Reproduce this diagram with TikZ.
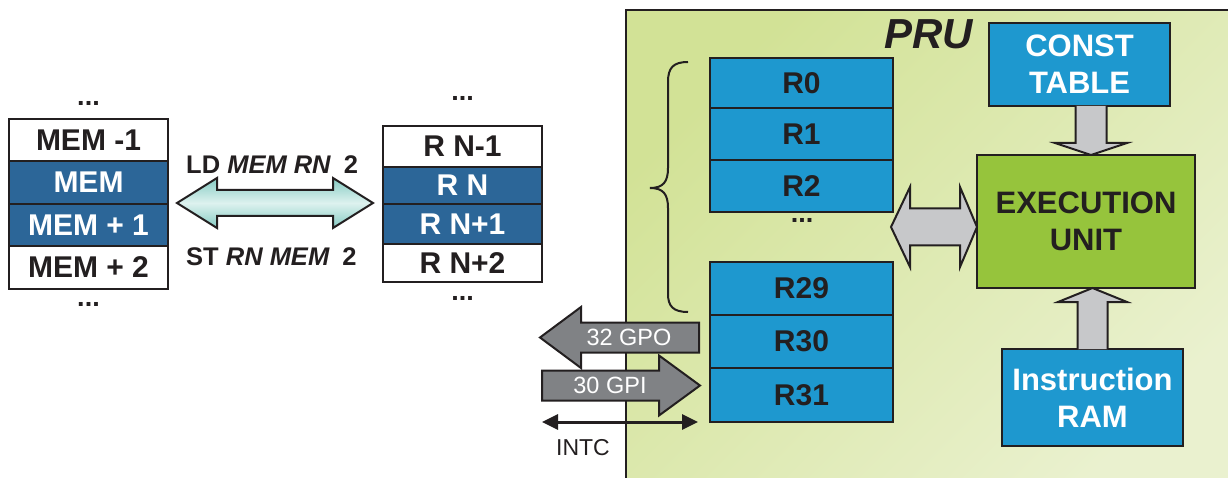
\documentclass[tikz,border=0pt]{standalone}
\usepackage{fontspec}
\setmainfont{Liberation Sans}
\usetikzlibrary{calc,positioning,arrows.meta}
\definecolor{ink}{HTML}{231F20}
\definecolor{memblue}{HTML}{2C6698}
\definecolor{regblue}{HTML}{1E98CF}
\definecolor{exgreen}{HTML}{96C43C}
\definecolor{lgray}{HTML}{C7C8CA}
\definecolor{dgray}{HTML}{808285}
\definecolor{pruA}{HTML}{D2E296}
\definecolor{pruB}{HTML}{EAF1CF}
\definecolor{tealA}{HTML}{86CBC3}
\definecolor{tealB}{HTML}{DDF2EF}
\begin{document}
\begin{tikzpicture}[x=1pt,y=-1pt,
  cell/.style={draw=ink, line width=2.5pt, outer sep=0pt, inner sep=0pt, text=ink,
    font=\bfseries\fontsize{30}{31}\selectfont},
  memw/.style={cell, fill=white, minimum width=159pt},
  memb/.style={memw, fill=memblue, text=white},
  regc/.style={cell, fill=regblue, minimum width=183pt},
  bigbox/.style={cell, align=center, font=\bfseries\fontsize{31}{37}\selectfont},
  dots/.style={anchor=base, inner sep=0pt, text=ink, font=\bfseries\fontsize{27}{28}\selectfont},
  garrow/.style={draw=ink, line width=2pt, fill=lgray, line join=miter},
  darrow/.style={draw=ink, line width=2pt, fill=dgray, line join=miter},
  albl/.style={inner sep=0pt, text=white, font=\fontsize{23.5}{25}\selectfont},
  oplbl/.style={anchor=west, inner sep=0pt, text=ink, font=\bfseries\fontsize{25.5}{27}\selectfont}
]
\clip (0,0) rectangle (1228,478);
\fill[white] (0,0) rectangle (1228,478);
% PRU background
\shade[top color=pruA, bottom color=pruB, shading angle=45] (626,10) rectangle (1240,490);
\draw[ink, line width=2.5pt] (626,490) -- (626,10) -- (1240,10);
\node[anchor=base west, inner sep=0pt, text=ink, font=\bfseries\itshape\fontsize{42}{44}\selectfont] (pru) at (884,49) {PRU};

% memory column
\node[memw, minimum height=42pt] (mm1) at (88.5,140) {MEM -1};
\node[memb, minimum height=43pt, below=0pt of mm1] (m0) {MEM};
\node[memb, minimum height=42pt, below=0pt of m0] (m1) {MEM + 1};
\node[memw, minimum height=43pt, below=0pt of m1] (m2) {MEM + 2};
\node[dots] (mdt) at (88.5,106) {...};
\node[dots] (mdb) at (88.5,306) {...};

% register window column
\node[memw, minimum height=41pt] (rnm1) at (462.5,146.5) {R N-1};
\node[memb, minimum height=37pt, below=0pt of rnm1] (rn0) {R N};
\node[memb, minimum height=40pt, below=0pt of rn0] (rn1) {R N+1};
\node[memw, minimum height=38pt, below=0pt of rn1] (rn2) {R N+2};
\node[dots] (rdt) at (462.5,101) {...};
\node[dots] (rdb) at (462.5,300) {...};

% LD / ST arrow
\coordinate (cl) at ($(m1.north east)+(9,-1)$);
\coordinate (cr) at ($(rn1.north west)+(-10,-1)$);
\shade[top color=tealA, bottom color=tealA, middle color=tealB, draw=ink, line width=2pt, line join=miter]
  (cl) -- ($(cl)+(40,-25)$) -- ($(cl)+(40,-13)$) -- ($(cr)+(-40,-13)$) -- ($(cr)+(-40,-25)$) -- (cr)
  -- ($(cr)+(-40,25)$) -- ($(cr)+(-40,13)$) -- ($(cl)+(40,13)$) -- ($(cl)+(40,25)$) -- cycle;
\node[oplbl] (ld) at (186,165) {LD \textit{MEM RN}\hspace{0.5em}2};
\node[oplbl] (st) at (186,257) {ST \textit{RN MEM}\hspace{0.5em}2};

% PRU registers
\node[regc, minimum height=50pt] (r0) at (801.5,83) {R0};
\node[regc, minimum height=52pt, below=0pt of r0] (r1) {R1};
\node[regc, minimum height=52pt, below=0pt of r1] (r2) {R2};
\node[dots] (rgd) at (802,223) {...};
\node[regc, minimum height=53pt] (r29) at (801.5,288.5) {R29};
\node[regc, minimum height=53pt, below=0pt of r29] (r30) {R30};
\node[regc, minimum height=54pt, below=0pt of r30] (r31) {R31};

% brace
\draw[ink, line width=2pt]
  (688,62) .. controls (673,62) and (668,68) .. (668,82) -- (668,168)
  .. controls (668,182) and (663,188) .. (650,188)
  .. controls (663,188) and (668,194) .. (668,208) -- (668,294)
  .. controls (668,306) and (673,312) .. (688,312);

% right blocks
\node[bigbox, fill=regblue, text=white, minimum width=181pt, minimum height=83pt] (cst) at (1079.5,64.5) {CONST\\TABLE};
\node[bigbox, fill=exgreen, minimum width=218pt, minimum height=133pt] (exec) at (1086,221.5) {EXECUTION\\UNIT};
\node[bigbox, fill=regblue, text=white, minimum width=181pt, minimum height=97pt] (ram) at (1092.5,397.5) {Instruction\\RAM};

% const -> exec
\coordinate (ct) at ($(cst.south -| exec.north)+(5,0)$);
\coordinate (cb) at ($(exec.north)+(5,0)$);
\draw[garrow] ($(ct)+(-15.5,0)$) -- ($(cb)+(-15.5,-12)$) -- ($(cb)+(-36,-12)$) -- (cb)
  -- ($(cb)+(36,-12)$) -- ($(cb)+(15.5,-12)$) -- ($(ct)+(15.5,0)$);

% ram -> exec
\coordinate (rb) at (ram.north);
\coordinate (rt) at (exec.south -| ram.north);
\draw[garrow] ($(rb)+(-15,0)$) -- ($(rt)+(-15,14)$) -- ($(rt)+(-34.5,14)$) -- (rt)
  -- ($(rt)+(34.5,14)$) -- ($(rt)+(15,14)$) -- ($(rb)+(15,0)$);

% registers <-> exec
\coordinate (xl) at ($(exec.west -| r2.east)+(-2,5.5)$);
\coordinate (xr) at ($(exec.west)+(0,5.5)$);
\draw[garrow] (xl) -- ($(xl)+(19,-40)$) -- ($(xl)+(19,-18.5)$) -- ($(xr)+(-17,-18.5)$) -- ($(xr)+(-17,-40)$) -- (xr)
  -- ($(xr)+(-17,40)$) -- ($(xr)+(-17,18.5)$) -- ($(xl)+(19,18.5)$) -- ($(xl)+(19,40)$) -- cycle;

% GPO
\coordinate (gpoR) at ($(r30.west)+(-11,-4)$);
\draw[darrow] ($(gpoR)+(0,-15)$) -- ($(gpoR)+(-118,-15)$) -- ($(gpoR)+(-118,-30.5)$) -- ($(gpoR)+(-159,0)$)
  -- ($(gpoR)+(-118,30.5)$) -- ($(gpoR)+(-118,15)$) -- ($(gpoR)+(0,15)$) -- cycle;
\node[albl] (gpo) at ($(gpoR)+(-70,0)$) {32 GPO};

% GPI
\coordinate (gpiT) at ($(r31.west)+(-10,-9.5)$);
\draw[darrow] ($(gpiT)+(-158,-15)$) -- ($(gpiT)+(-41,-15)$) -- ($(gpiT)+(-41,-30)$) -- (gpiT)
  -- ($(gpiT)+(-41,30)$) -- ($(gpiT)+(-41,15)$) -- ($(gpiT)+(-158,15)$) -- cycle;
\node[albl] (gpi) at ($(gpiT)+(-90,0)$) {30 GPI};

% INTC
\coordinate (iR) at ($(r31.south west)+(-12,0)$);
\coordinate (iL) at ($(iR)+(-156,0)$);
\draw[ink, line width=3pt, {Triangle[length=16pt,width=15pt]}-{Triangle[length=16pt,width=15pt]}] (iL) -- (iR);
\node[inner sep=0pt, text=ink, font=\fontsize{23}{25}\selectfont] (intc) at ($(iL)+(41,26)$) {INTC};
\end{tikzpicture}
\end{document}
